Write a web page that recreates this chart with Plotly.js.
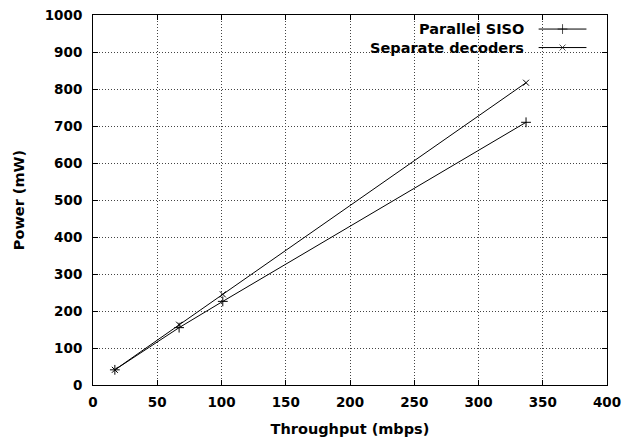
<!DOCTYPE html>
<html><head><meta charset="utf-8">
<script src="https://cdn.plot.ly/plotly-3.0.1.min.js"></script>
<style>html,body{margin:0;padding:0;background:#fff}#c{width:632px;height:440px}</style>
</head><body><div id="c"></div>
<script>
const throughput = [17, 67, 101, 337];
const parallelSISO = [41, 155, 226, 710];
const separateDecoders = [41, 163, 245, 817];
const seriesNames = ["Parallel SISO", "Separate decoders"];
const xTicks = [0, 50, 100, 150, 200, 250, 300, 350, 400];
const yTicks = [0, 100, 200, 300, 400, 500, 600, 700, 800, 900, 1000];

const F = "DejaVu Sans, Liberation Sans, sans-serif";
const traces = [
  {x: throughput, y: parallelSISO, name: seriesNames[0], mode: "lines+markers",
   line: {color: "#000", width: 1}, marker: {symbol: "cross-thin-open", size: 7, color: "#000", line: {color: "#000", width: 1}}},
  {x: throughput, y: separateDecoders, name: seriesNames[1], mode: "lines+markers",
   line: {color: "#000", width: 1}, marker: {symbol: "x-thin-open", size: 6, color: "#000", line: {color: "#000", width: 1}}}
];
const axisCommon = {
  showline: true, mirror: "ticks", linecolor: "#000", linewidth: 1,
  ticks: "inside", ticklen: 5, tickcolor: "#000",
  showgrid: true, gridcolor: "#444", griddash: "1px,2px", gridwidth: 1,
  zeroline: false, tickfont: {family: F, size: 13.5, color: "#000", weight: "bold"}
};
const legendShapes = [], legendAnn = [];
const legY = [0.962, 0.912];
seriesNames.forEach((n, i) => {
  legendAnn.push({xref: "paper", yref: "paper", x: 0.843, y: legY[i], xanchor: "right", yanchor: "middle",
    text: n, showarrow: false, font: {family: F, size: 14.5, color: "#000", weight: "bold"}});
  legendShapes.push({type: "line", xref: "paper", yref: "paper", x0: 0.867, x1: 0.96, y0: legY[i], y1: legY[i],
    line: {color: "#000", width: 1}});
});
const layout = {
  width: 632, height: 440,
  margin: {l: 93, r: 24.5, t: 14.7, b: 54.7},
  paper_bgcolor: "#fff", plot_bgcolor: "#fff",
  showlegend: false,
  xaxis: Object.assign({}, axisCommon, {range: [0, 400], tickvals: xTicks, ticklabelstandoff: 5,
    title: {text: "Throughput (mbps)", font: {family: F, size: 14.5, color: "#000", weight: "bold"}, standoff: 14}}),
  yaxis: Object.assign({}, axisCommon, {range: [0, 1000], tickvals: yTicks, ticklabelstandoff: 7,
    title: {text: "Power (mW)", font: {family: F, size: 14.5, color: "#000", weight: "bold"}, standoff: 16}}),
  annotations: legendAnn,
  shapes: legendShapes
};
traces.push({x: [0.9135, 0.9135], y: legY, xaxis: "x2", yaxis: "y2", mode: "markers", showlegend: false, hoverinfo: "skip",
  marker: {symbol: ["cross-thin-open", "x-thin-open"], size: [7, 6], color: "#000", line: {color: "#000", width: 1}}});
layout.xaxis2 = {overlaying: "x", range: [0, 1], visible: false};
layout.yaxis2 = {overlaying: "y", range: [0, 1], visible: false};
Plotly.newPlot("c", traces, layout, {displayModeBar: false, staticPlot: true});
</script></body></html>
